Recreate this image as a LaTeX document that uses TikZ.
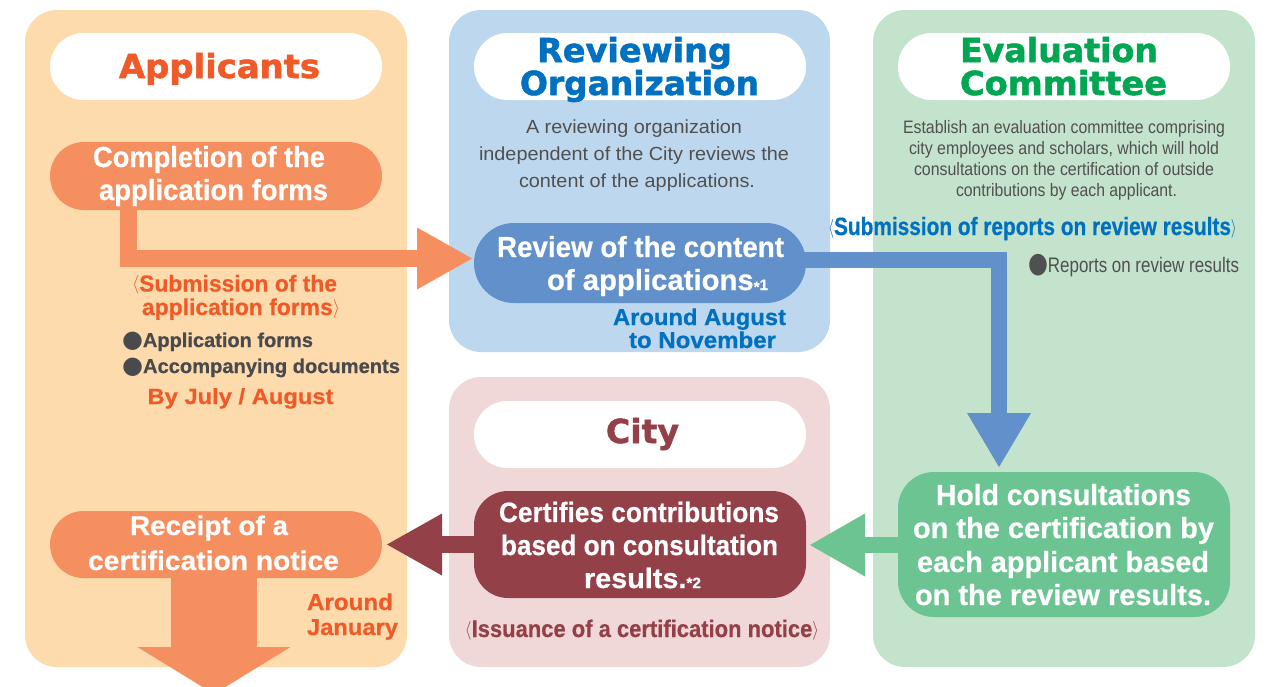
\documentclass[tikz,border=0pt]{standalone}
\usepackage{fontspec}
\usepackage{graphicx}
\setmainfont{Liberation Sans}[BoldFeatures={FakeBold=0.6}]
\newfontfamily\titlefont{DejaVu Sans}[BoldFeatures={FakeBold=1.6}]
\newfontfamily\dejavu{DejaVu Sans}
\usetikzlibrary{calc,arrows.meta,shapes.misc}
\definecolor{peach}{RGB}{253,219,172}
\definecolor{orangeF}{RGB}{246,143,96}
\definecolor{orangeT}{RGB}{240,90,40}
\definecolor{blueL}{RGB}{189,215,238}
\definecolor{blueF}{RGB}{97,144,203}
\definecolor{blueT}{RGB}{0,112,192}
\definecolor{greenL}{RGB}{196,227,204}
\definecolor{greenF}{RGB}{108,196,146}
\definecolor{greenT}{RGB}{0,166,81}
\definecolor{pinkL}{RGB}{240,216,216}
\definecolor{redF}{RGB}{148,64,73}
\definecolor{grayT}{RGB}{74,74,76}
\definecolor{grayD}{RGB}{80,80,80}
\newcommand\fw[2]{\resizebox{#1pt}{\height}{#2}}
\newcommand\txtline[5]{\node[txt,#1] (#2) at (#3) {\fw{#4}{#5}};}
\newcommand\bulletc{{\dejavu\mdseries\scalebox{1.2}{●}}}
\newcommand\bulletd{{\dejavu\mdseries\scalebox{1.35}{●}}}
\newcommand\lbr{\raisebox{2pt}{\scalebox{0.75}{$\langle$}}}
\newcommand\rbr{\raisebox{2pt}{\scalebox{0.75}{$\rangle$}}}
\begin{document}
\begin{tikzpicture}[x=1pt,y=-1pt,
  txt/.style={inner sep=0pt, outer sep=0pt, anchor=base},
  title/.style={font=\titlefont\bfseries\fontsize{33}{33}\selectfont},
  pilltxt/.style={text=white, font=\bfseries\fontsize{29}{29}\selectfont},
  lab/.style={font=\bfseries\fontsize{24}{24}\selectfont},
  bul/.style={anchor=base west, text=grayT, font=\bfseries\fontsize{20}{20}\selectfont},
  desc/.style={text=grayD, font=\fontsize{19}{19}\selectfont},
  when/.style={font=\bfseries\fontsize{23}{23}\selectfont},
  panel/.style={rounded corners=32pt},
  hpill/.style={rounded rectangle, fill=white, minimum width=332pt, minimum height=67pt, inner sep=0pt, outer sep=0pt},
  apill/.style={rounded rectangle, minimum width=332pt, inner sep=0pt, outer sep=0pt},
  rpill/.style={rectangle, rounded corners=34pt, minimum width=332pt, inner sep=0pt, outer sep=0pt},
  flow/.style={line join=miter}
]
\useasboundingbox (0,0) rectangle (1271,686);
% panels
\fill[peach, panel] (25,10) rectangle (407,667);
\fill[blueL, panel] (449,10) rectangle (830,352);
\fill[greenL, panel] (873,10) rectangle (1255,667);
\fill[pinkL, panel] (449,377) rectangle (830,667);
% header pills
\node[hpill] (hA) at (216,66.5) {};
\node[hpill] (hR) at (640,66.5) {};
\node[hpill] (hE) at (1064,66.5) {};
\node[hpill] (hC) at (640,434.5) {};
% action pills (shapes first for anchors)
\path (216,176) node[apill, minimum height=68pt] (comp) {};
\path (640,263) node[apill, minimum height=80pt] (rev) {};
\path (216,544.5) node[apill, minimum height=67pt] (rec) {};
\path (640,544.5) node[rpill, minimum height=107pt] (cert) {};
\path (1064,544.5) node[rpill, rounded corners=36pt, minimum height=145pt] (hold) {};
\coordinate (exit) at (214,694);
% connectors
\draw[flow, line width=17pt, draw=orangeF, -{Triangle[length=55pt,width=62pt,line width=0pt]}]
  ($(comp.south)+(-87.5,-10)$) |- ($(rev.west)+(-2,-4.5)$);
\draw[flow, line width=16pt, draw=blueF, -{Triangle[length=54pt,width=64pt,line width=0pt]}]
  ($(rev.east)+(-10,-3.5)$) -| ($(hold.north west)+(101,-5)$);
\draw[flow, line width=16pt, draw=greenF, -{Triangle[length=55pt,width=63pt,line width=0pt]}]
  ($(hold.west)+(10,0.5)$) -- ($(cert.east)+(4,0.5)$);
\draw[flow, line width=17pt, draw=redF, -{Triangle[length=55pt,width=62pt,line width=0pt]}]
  ($(cert.west)+(10,0)$) -- ($(rec.east)+(5,0)$);
\draw[flow, line width=86pt, draw=orangeF, -{Triangle[length=47pt,width=153pt,line width=0pt]}]
  ($(rec.south)+(-2,-5)$) -- (exit);
% pills on top
\node[apill, fill=orangeF, minimum height=68pt] at (comp) {};
\node[apill, fill=blueF, minimum height=80pt] at (rev) {};
\node[apill, fill=orangeF, minimum height=67pt] at (rec) {};
\node[rpill, fill=redF, minimum height=107pt] at (cert) {};
\node[rpill, rounded corners=36pt, fill=greenF, minimum height=145pt] at (hold) {};
% titles
\txtline{title, text=orangeT}{tA}{219.5,78}{201}{Applicants}
\txtline{title, text=blueT}{tR1}{634.5,62}{195}{Reviewing}
\txtline{title, text=blueT}{tR2}{639.5,95}{239}{Organization}
\txtline{title, text=greenT}{tE1}{1059,62}{198}{Evaluation}
\txtline{title, text=greenT}{tE2}{1063.5,95}{207}{Committee}
\txtline{title, text=redF}{tC}{642.5,443}{73}{City}
% pill texts
\txtline{pilltxt}{c1}{209,167}{232}{Completion of the}
\txtline{pilltxt}{c2}{213.5,200}{229}{application forms}
\txtline{pilltxt}{r1}{640.5,257}{287}{Review of the content}
\txtline{pilltxt}{r2}{657.5,290}{221}{of applications{\fontsize{15}{15}\selectfont\raisebox{-2pt}{*}1}}
\txtline{pilltxt, font=\bfseries\fontsize{28}{28}\selectfont}{k1}{639,522}{280}{Certifies contributions}
\txtline{pilltxt, font=\bfseries\fontsize{28}{28}\selectfont}{k2}{639.5,555}{277}{based on consultation}
\txtline{pilltxt, font=\bfseries\fontsize{28}{28}\selectfont}{k3}{642.5,588}{117}{results.{\fontsize{15}{15}\selectfont*2}}
\txtline{pilltxt, font=\bfseries\fontsize{27}{27}\selectfont}{e1}{209,535}{158}{Receipt of a}
\txtline{pilltxt, font=\bfseries\fontsize{27}{27}\selectfont}{e2}{213.5,570}{251}{certification notice}
\txtline{pilltxt}{h1}{1063.5,505}{255}{Hold consultations}
\txtline{pilltxt}{h2}{1063.5,538}{301}{on the certification by}
\txtline{pilltxt}{h3}{1063,572}{292}{each applicant based}
\txtline{pilltxt}{h4}{1063,605}{296}{on the review results.}
% labels
\txtline{lab, text=orangeT, font=\bfseries\fontsize{23}{23}\selectfont}{s1}{234.5,291.5}{205}{\lbr Submission of the}
\txtline{lab, text=orangeT, font=\bfseries\fontsize{23}{23}\selectfont}{s2}{241,315}{198}{application forms\rbr}
\txtline{bul}{b1}{122,347}{191}{\bulletc Application forms}
\txtline{bul}{b2}{122,373}{278}{\bulletc Accompanying documents}
\txtline{when, text=orangeT, font=\bfseries\fontsize{22}{22}\selectfont}{w1}{240.5,404}{186}{By July / August}
\txtline{desc}{d1}{634,133}{216}{A reviewing organization}
\txtline{desc}{d2}{634,160}{310}{independent of the City reviews the}
\txtline{desc}{d3}{637,187}{236}{content of the applications.}
\txtline{when, text=blueT}{w2}{699.5,325}{173}{Around August}
\txtline{when, text=blueT}{w3}{702.5,348}{147}{to November}
\txtline{desc, font=\fontsize{18}{18}\selectfont}{d4}{1064,133}{322}{Establish an evaluation committee comprising}
\txtline{desc, font=\fontsize{18}{18}\selectfont}{d5}{1064,154}{310}{city employees and scholars, which will hold}
\txtline{desc, font=\fontsize{18}{18}\selectfont}{d6}{1064,175}{300}{consultations on the certification of outside}
\txtline{desc, font=\fontsize{18}{18}\selectfont}{d7}{1066.5,196}{221}{contributions by each applicant.}
\txtline{lab, text=blueT, font=\bfseries\fontsize{25}{25}\selectfont}{s3}{1032.5,235}{409}{\lbr Submission of reports on review results\rbr}
\txtline{bul, text=grayD, font=\fontsize{21}{21}\selectfont}{b3}{1028,272}{211}{\bulletd Reports on review results}
\txtline{lab, text=redF}{s4}{642,637}{354}{\lbr Issuance of a certification notice\rbr}
\txtline{when, anchor=base west, text=orangeT}{w4}{307,610}{86}{Around}
\txtline{when, anchor=base west, text=orangeT}{w5}{307,635}{91}{January}
\end{tikzpicture}
\end{document}
